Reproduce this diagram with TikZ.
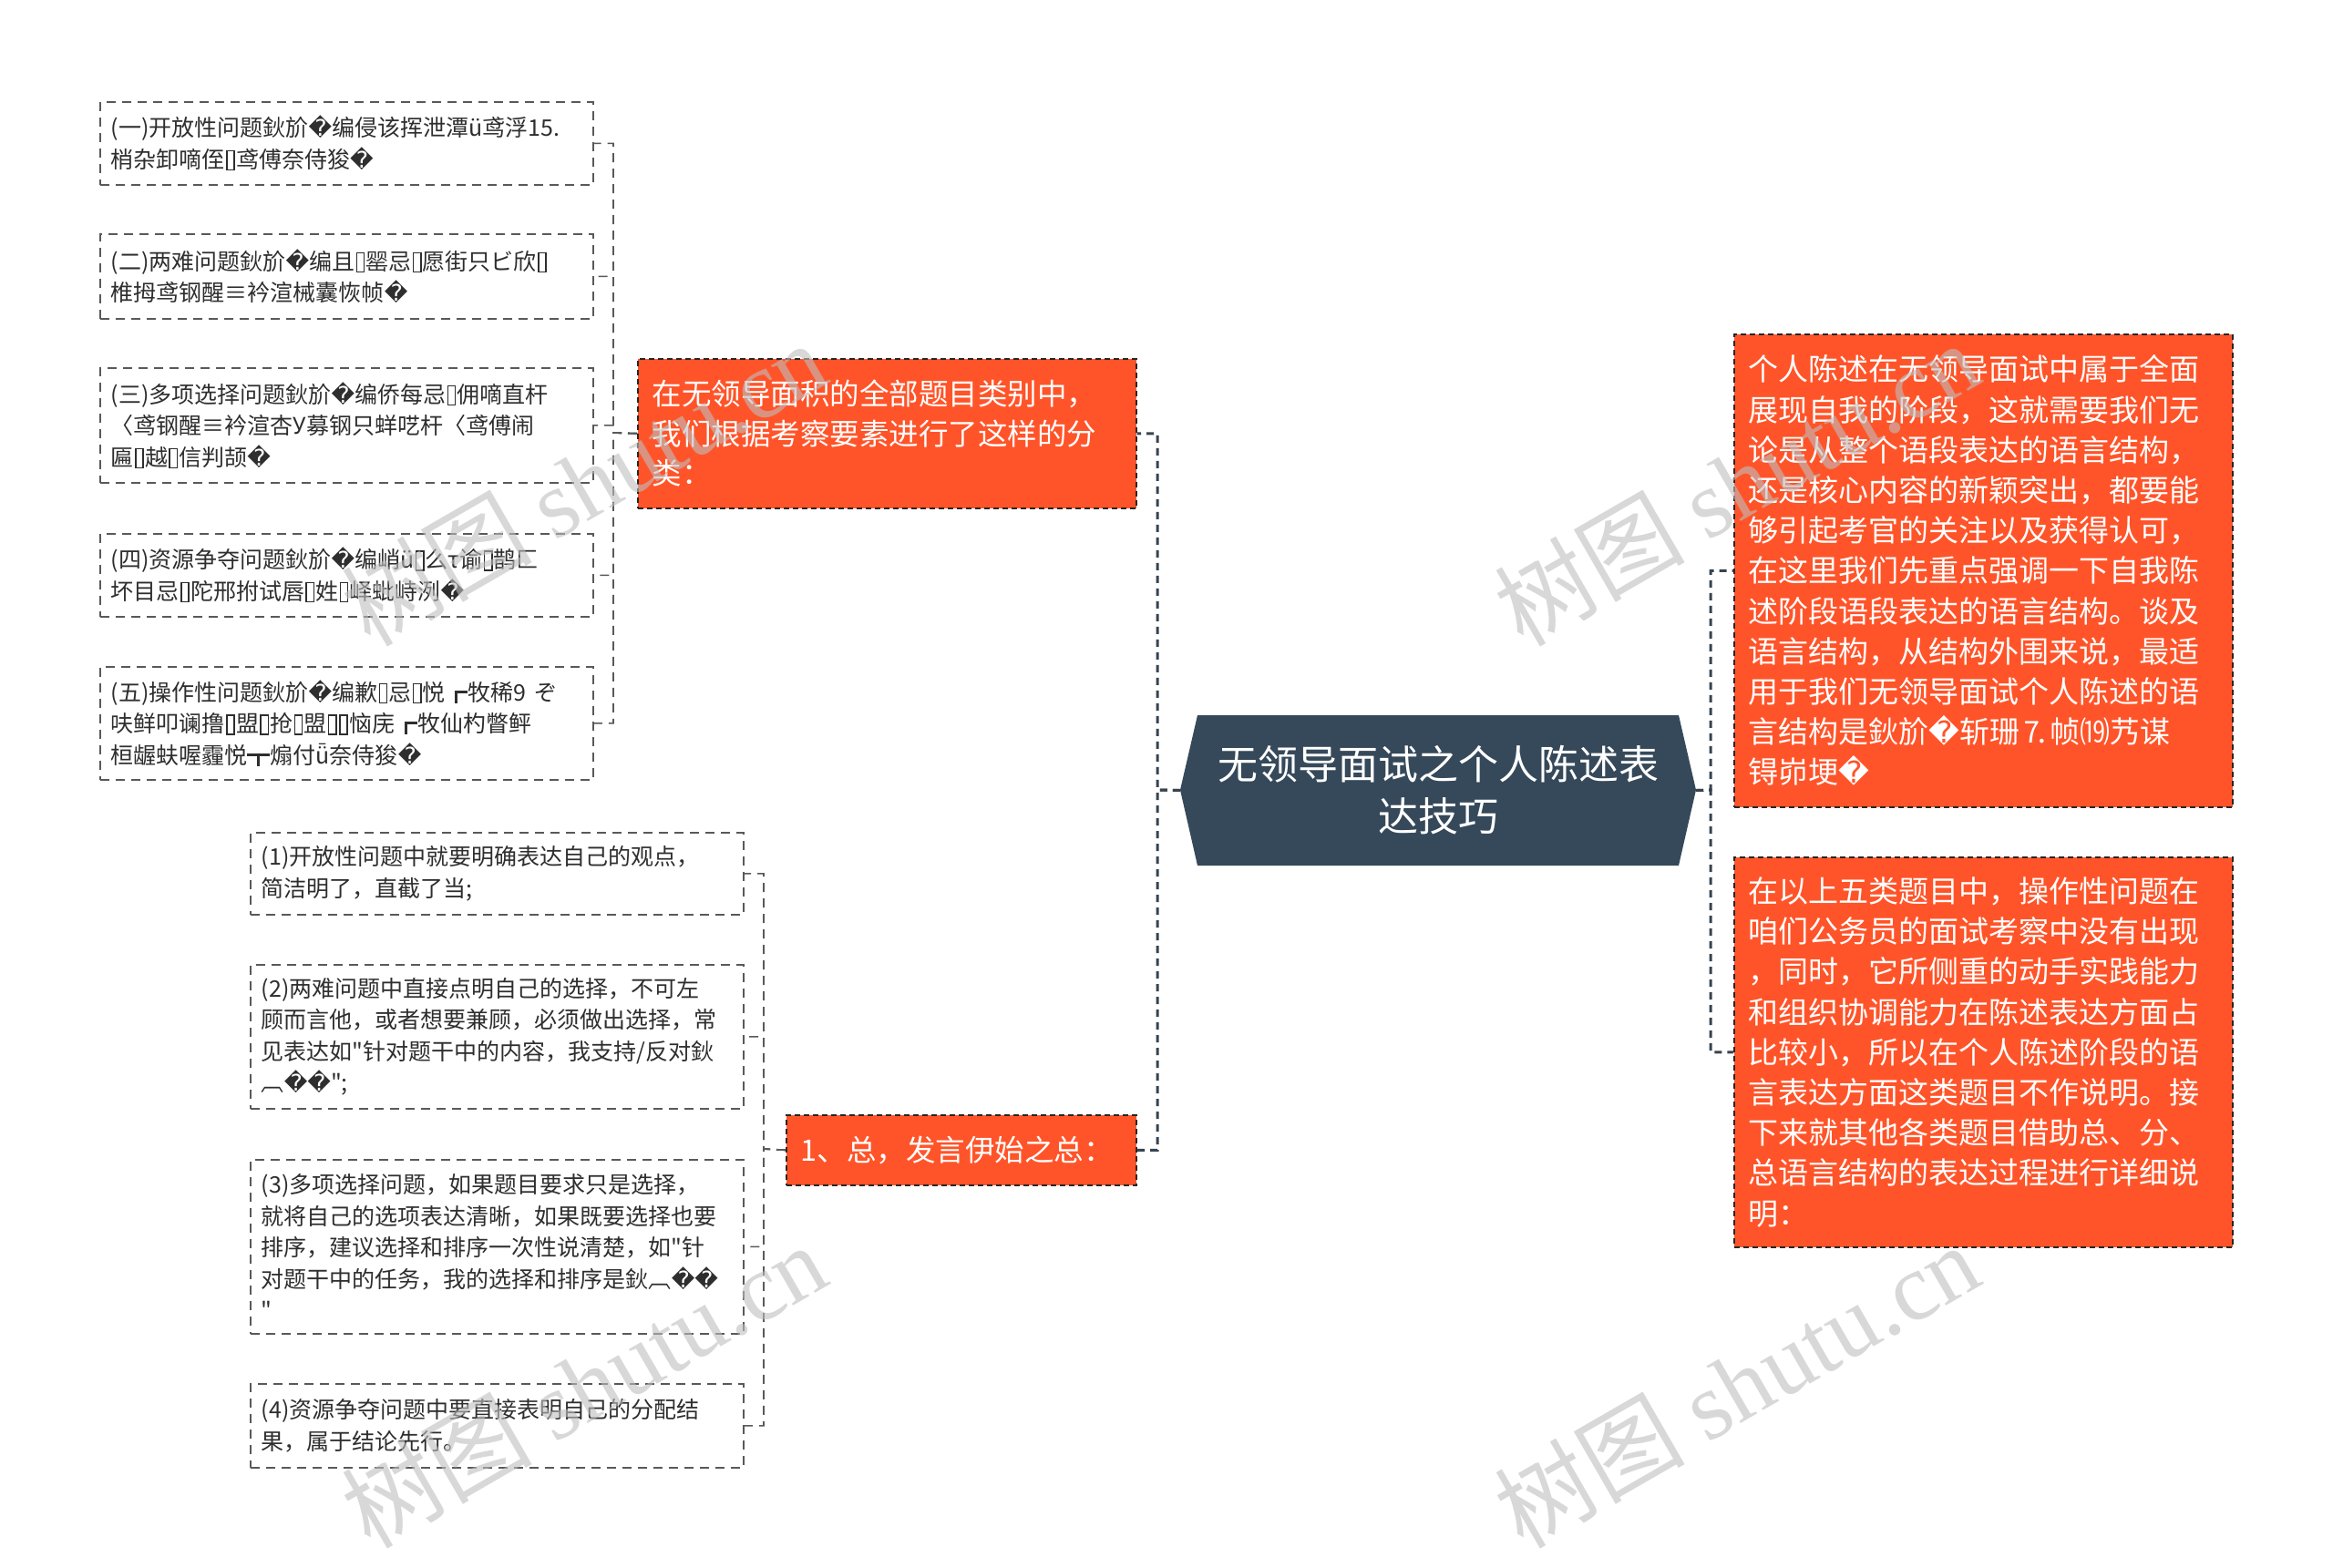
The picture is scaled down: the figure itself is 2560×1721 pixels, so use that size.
\documentclass[tikz,border=0pt]{standalone}
\usepackage{fontspec}
\setmainfont{Noto Sans CJK SC}
\newfontfamily\plaincjk{Noto Sans CJK SC}
\newfontfamily\dejavu{DejaVu Sans}
\newfontfamily\wmfont{Liberation Serif}
\newcommand\rp{{\dejavu\symbol{"FFFD}}}
\newcommand\dq{{\plaincjk\symbol{34}}}
\newcommand\bxx{\kern0.05em\raisebox{-0.06em}{\setlength{\fboxsep}{0pt}\setlength{\fboxrule}{0.06em}\fbox{\rule{0pt}{0.78em}\rule{0.27em}{0pt}}}\kern0.05em}
\definecolor{orng}{RGB}{255,84,41}
\definecolor{hub}{RGB}{54,73,90}
\definecolor{linec}{RGB}{55,68,80}
\definecolor{wmc}{RGB}{190,190,190}
\tikzset{
  orbox/.style={draw=black!85, dash pattern=on 6pt off 4pt, line width=1.6pt, fill=orng, text=white,
    font=\fontsize{32.5}{43.5}\selectfont, align=left, inner xsep=16pt, inner ysep=0pt, anchor=north west},
  leaf/.style={draw=black!65, dash pattern=on 10pt off 7pt, line width=1.6pt, fill=white, text=black!82,
    font=\fontsize{25}{34.5}\selectfont, align=left, inner xsep=12pt, inner ysep=0pt, anchor=north west,
    text width=517pt},
  trunk/.style={draw=linec, line width=3pt, dash pattern=on 8pt off 6pt},
  twig/.style={draw=black!65, line width=1.6pt, dash pattern=on 10pt off 7pt},
  wm/.style={text=wmc, opacity=0.6, font=\fontsize{105}{110}\selectfont, rotate=30}
}
\begin{document}
\begin{tikzpicture}[x=1pt,y=-1pt]
\fill[white] (0,0) rectangle (2560,1721);
\useasboundingbox (0,0) rectangle (2560,1721);

% central hexagon
\fill[hub] (1314,785) -- (1842,785) -- (1861,867) -- (1842,950) -- (1314,950) -- (1295,867) -- cycle;
\node[text=white, font=\fontsize{44}{57}\selectfont, align=center, minimum width=566pt, minimum height=165pt, inner sep=0pt]
  (C) at (1578,867.5) {无领导面试之个人陈述表\\达技巧};

% first level
\node[orbox, text width=515pt, minimum height=164pt] (A) at (699,393)
  {在无领导面积的全部题目类别中，\\我们根据考察要素进行了这样的分\\类：};
\node[orbox, text width=352pt, minimum height=77pt] (B) at (862,1223)
  {1、总，发言伊始之总：};
\node[orbox, text width=515pt, minimum height=519pt, font=\fontsize{33}{44.2}\selectfont] (R1) at (1902,366)
  {个人陈述在无领导面试中属于全面\\展现自我的阶段，这就需要我们无\\论是从整个语段表达的语言结构，\\还是核心内容的新颖突出，都要能\\够引起考官的关注以及获得认可，\\在这里我们先重点强调一下自我陈\\述阶段语段表达的语言结构。谈及\\语言结构，从结构外围来说，最适\\用于我们无领导面试个人陈述的语\\言结构是鈥斺\rp{}斩珊⒎帧⒆艿谋\\锝峁埂\rp};
\node[orbox, text width=515pt, minimum height=428pt, font=\fontsize{33}{44.2}\selectfont] (R2) at (1902,940)
  {在以上五类题目中，操作性问题在\\咱们公务员的面试考察中没有出现\\，同时，它所侧重的动手实践能力\\和组织协调能力在陈述表达方面占\\比较小，所以在个人陈述阶段的语\\言表达方面这类题目不作说明。接\\下来就其他各类题目借助总、分、\\总语言结构的表达过程进行详细说\\明：};

% children of A
\node[leaf, minimum height=91pt] (c1) at (109,111)
  {(一)开放性问题鈥斺\rp{}编侵该挥泄潭ü鸢浮15.\\梢杂卸嘀侄\bxx{}鸢傅奈侍狻\rp};
\node[leaf, minimum height=93pt] (c2) at (109,256)
  {(二)两难问题鈥斺\rp{}编且\bxx{}罂忌\bxx{}愿街只ビ欣\bxx\\椎拇鸢钢醒≡衿渲械囊恢帧\rp};
\node[leaf, minimum height=126pt] (c3) at (109,403)
  {(三)多项选择问题鈥斺\rp{}编侨每忌\bxx{}佣嘀直杆\\〈鸢钢醒≡衿渲杏У募钢只蛘呓杆〈鸢傅闹\\匾\bxx{}越\bxx{}信判颉\rp};
\node[leaf, minimum height=91pt] (c4) at (109,585)
  {(四)资源争夺问题鈥斺\rp{}编峭ü\bxx{}么τ谕\bxx{}鹊匚\\坏目忌\bxx{}陀邢拊试唇\bxx{}姓\bxx{}峄蚍峙洌\rp};
\node[leaf, minimum height=124pt] (c5) at (109,731)
  {(五)操作性问题鈥斺\rp{}编歉\bxx{}忌\bxx{}悦┏牧稀9 ぞ\\呋鲜叩谰撸\bxx{}盟\bxx{}抢\bxx{}盟\bxx\bxx{}恼庑┏牧仙杓瞥鲆\\桓龌蚨喔霾悦┳煽付ǖ奈侍狻\rp};

% children of B
\node[leaf, minimum height=90pt] (d1) at (274,913)
  {(1)开放性问题中就要明确表达自己的观点，\\简洁明了，直截了当;};
\node[leaf, minimum height=158pt] (d2) at (274,1058)
  {(2)两难问题中直接点明自己的选择，不可左\\顾而言他，或者想要兼顾，必须做出选择，常\\见表达如\dq{}针对题干中的内容，我支持/反对鈥\\︹\rp\rp\dq;};
\node[leaf, minimum height=191pt] (d3) at (274,1272)
  {(3)多项选择问题，如果题目要求只是选择，\\就将自己的选项表达清晰，如果既要选择也要\\排序，建议选择和排序一次性说清楚，如\dq{}针\\对题干中的任务，我的选择和排序是鈥︹\rp\rp\\\dq};
\node[leaf, minimum height=92pt] (d4) at (274,1518)
  {(4)资源争夺问题中要直接表明自己的分配结\\果，属于结论先行。};

% connectors
\coordinate (LT) at (1270,867);
\coordinate (RT) at (1877,867);
\coordinate (AT) at (673,475);
\coordinate (BT) at (838,1261);
\draw[trunk] (C.west) -- (LT) |- (A.east);
\draw[trunk] (C.west) -- (LT) |- (B.east);
\draw[trunk] (C.east) -- (RT) |- (R1.west);
\draw[trunk] (C.east) -- (RT) |- (R2.west);
\foreach \n in {c1,c2,c3,c4,c5} \draw[twig] (A.west) -- (AT) |- (\n.east);
\foreach \n in {d1,d2,d3,d4} \draw[twig] (B.west) -- (BT) |- (\n.east);

% watermarks
\node[wm] (w1) at (640,530) {树图 {\wmfont shutu.cn}};
\node[wm] (w2) at (1905,530) {树图 {\wmfont shutu.cn}};
\node[wm] (w3) at (640,1520) {树图 {\wmfont shutu.cn}};
\node[wm] (w4) at (1905,1520) {树图 {\wmfont shutu.cn}};
\end{tikzpicture}
\end{document}
